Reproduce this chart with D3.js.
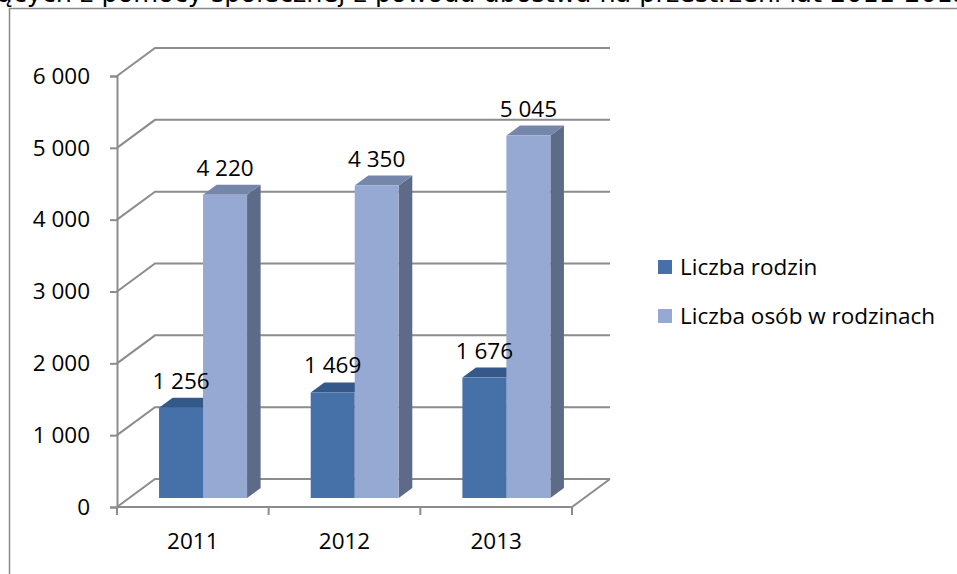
<!DOCTYPE html>
<html>
<head>
<meta charset="utf-8">
<script src="https://cdn.jsdelivr.net/npm/d3@7"></script>
<style>
  body { margin: 0; background: #fff; }
  svg { display: block; }
</style>
</head>
<body>
<div id="chart"></div>
<script>
// data
var years = ["2011", "2012", "2013"];
var seriesNames = ["Liczba rodzin", "Liczba osób w rodzinach"];
var rodziny = [1256, 1469, 1676];
var osoby = [4220, 4350, 5045];
var yTicks = [0, 1000, 2000, 3000, 4000, 5000, 6000];
var titleText = "ących z pomocy społecznej z powodu ubóstwa na przestrzeni lat 2011-2013";

var W = 957, H = 574;
var font = "'Open Sans', sans-serif";
var fs = 22.5;

// colours: front, top, side for each series
var colors = [
  {front: "#4571a8", top: "#34588a", side: "#2f4f7c"},
  {front: "#95a9d2", top: "#7486a9", side: "#5e6b88"}
];

var svg = d3.select("#chart").append("svg")
    .attr("width", W)
    .attr("height", H);

// title, cut by the top edge
svg.append("text")
    .attr("x", -3)
    .attr("y", 2)
    .attr("font-family", "'DejaVu Sans', sans-serif")
    .attr("font-size", 25.5)
    .attr("fill", "#000")
    .text(titleText);

// chart frame
svg.append("path")
    .attr("d", "M9.5," + H + "V8.5H" + W)
    .attr("fill", "none")
    .attr("stroke", "#8a8a8a")
    .attr("stroke-width", 1.5);

// front plane scales + depth offset
var left = 117, right = 572;
var depthX = 38, depthY = -28;

var y = d3.scaleLinear()
    .domain([0, 6000])
    .range([507, 76]);

var x = d3.scaleBand()
    .domain(years)
    .range([left, right]);

var grid = svg.append("g")
    .attr("stroke", "#8c8c8c")
    .attr("stroke-width", 2)
    .attr("fill", "none");

// side wall diagonals + back wall lines
yTicks.forEach(function(t) {
  var yf = y(t);
  grid.append("path")
      .attr("d", "M" + left + "," + yf + "L" + (left + depthX) + "," + (yf + depthY) +
                 "H" + (right + depthX));
});

// floor front edge and right side
grid.append("path")
    .attr("d", "M" + left + "," + y(0) + "H" + right +
               "L" + (right + depthX) + "," + (y(0) + depthY));

// y axis
var yAxis = svg.append("g")
    .attr("transform", "translate(" + left + ",0)")
    .call(d3.axisLeft(y).tickValues(yTicks).tickSize(7).tickPadding(20)
      .tickFormat(function(d) { return d3.format(",")(d).replace(/,/g, " "); }));
yAxis.select(".domain").attr("stroke", "#8c8c8c").attr("stroke-width", 2);
yAxis.selectAll(".tick line").attr("stroke", "#8c8c8c").attr("stroke-width", 2);
yAxis.selectAll("text")
    .attr("font-family", font)
    .attr("font-size", fs)
    .attr("fill", "#000");

// x axis
var xTickPos = years.map(function(d) { return x(d); }).concat([right]);
svg.append("g")
    .selectAll("line")
    .data(xTickPos)
    .enter().append("line")
    .attr("x1", function(d) { return d; })
    .attr("x2", function(d) { return d; })
    .attr("y1", y(0))
    .attr("y2", y(0) + 8)
    .attr("stroke", "#8c8c8c")
    .attr("stroke-width", 2);

svg.append("g")
    .selectAll("text")
    .data(years)
    .enter().append("text")
    .attr("x", function(d) { return x(d) + x.bandwidth() / 2; })
    .attr("y", 549)
    .attr("text-anchor", "middle")
    .attr("font-family", font)
    .attr("font-size", fs)
    .attr("fill", "#000")
    .text(function(d) { return d; });

// bars
var barW = 44;
var inner = d3.scaleBand()
    .domain(seriesNames)
    .range([0, barW * 2]);
var groupOffset = (x.bandwidth() - barW * 2) / 2 - 2;

// bar sits in the middle of the depth
var fr0 = 9 / 28, fr1 = 19 / 28;
var bx0 = depthX * fr0, by0 = depthY * fr0;
var bdx = depthX * (fr1 - fr0), bdy = depthY * (fr1 - fr0);

var seriesVals = [rodziny, osoby];
var fmt = function(v) { return d3.format(",")(v).replace(/,/g, " "); };

years.forEach(function(yr, i) {
  seriesNames.forEach(function(s, j) {
    var v = seriesVals[j][i];
    var xl = x(yr) + groupOffset + inner(s) + bx0;
    var xr = xl + inner.bandwidth();
    var yb = y(0) + by0;
    var yt = y(v) + by0;
    var c = colors[j];
    var g = svg.append("g");

    // side
    g.append("path")
        .attr("d", "M" + xr + "," + yb + "L" + (xr + bdx) + "," + (yb + bdy) +
                   "L" + (xr + bdx) + "," + (yt + bdy) + "L" + xr + "," + yt + "Z")
        .attr("fill", c.side);
    // top
    g.append("path")
        .attr("d", "M" + xl + "," + yt + "L" + xr + "," + yt +
                   "L" + (xr + bdx) + "," + (yt + bdy) + "L" + (xl + bdx) + "," + (yt + bdy) + "Z")
        .attr("fill", c.top);
    // front
    g.append("rect")
        .attr("x", xl)
        .attr("y", yt)
        .attr("width", inner.bandwidth())
        .attr("height", yb - yt)
        .attr("fill", c.front);
  });
});

// value labels on top
years.forEach(function(yr, i) {
  seriesNames.forEach(function(s, j) {
    var v = seriesVals[j][i];
    var cx = x(yr) + groupOffset + inner(s) + bx0 + inner.bandwidth() / 2;
    svg.append("text")
        .attr("x", cx)
        .attr("y", y(v) + by0 + bdy - 9)
        .attr("text-anchor", "middle")
        .attr("font-family", font)
        .attr("font-size", fs)
        .attr("fill", "#000")
        .text(fmt(v));
  });
});

// legend
var legend = svg.append("g")
    .attr("transform", "translate(658,260)");

seriesNames.forEach(function(s, j) {
  var row = legend.append("g")
      .attr("transform", "translate(0," + (j * 49) + ")");
  row.append("rect")
      .attr("width", 14)
      .attr("height", 14)
      .attr("fill", colors[j].front);
  row.append("text")
      .attr("x", 22)
      .attr("y", 15)
      .attr("font-family", font)
      .attr("font-size", fs)
      .attr("fill", "#000")
      .text(s);
});
</script>
</body>
</html>
